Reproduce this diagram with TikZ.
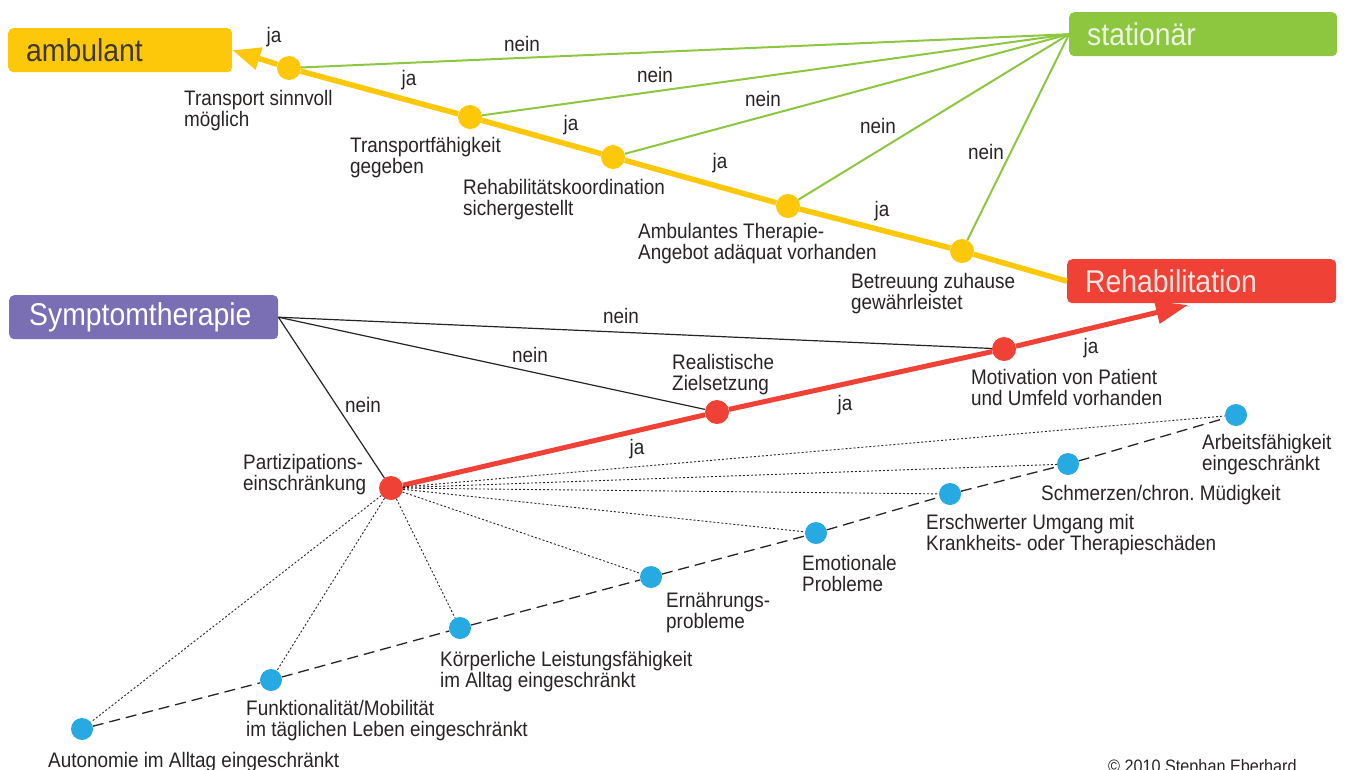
\documentclass[tikz,border=0pt]{standalone}
\usepackage{fontspec}
\setmainfont{Liberation Sans}[FakeStretch=0.9]
\usetikzlibrary{arrows.meta}
\definecolor{gelb}{RGB}{253,200,10}
\definecolor{gruen}{RGB}{141,198,63}
\definecolor{rot}{RGB}{239,65,54}
\definecolor{lila}{RGB}{122,110,181}
\definecolor{blau}{RGB}{39,170,225}
\definecolor{txt}{RGB}{40,36,36}
\newcommand{\lblfont}{\fontsize{21}{21}\selectfont}
\newcommand{\boxfont}{\fontsize{31.5}{33}\selectfont}
\frenchspacing
\begin{document}
\begin{tikzpicture}[x=1pt,y=-1pt,
	box/.style={rounded corners=5pt,anchor=north west,minimum height=44pt,inner xsep=18pt,inner ysep=0pt,text width=#1,align=left,font=\boxfont},
	dot/.style={circle,inner sep=0pt,minimum size=24pt,fill=#1},
	lbl/.style={anchor=base west,align=left,inner sep=0pt,font=\lblfont,text=txt},
	ans/.style={inner sep=0pt,font=\lblfont,text=txt}]
	\useasboundingbox (0,0) rectangle (1352,769);
	% boxes
	\node[box=188pt,fill=gelb,text={rgb,255:red,60;green,56;blue,50}] (amb) at (8,28) {ambulant};
	\node[box=232pt,fill=gruen,text={rgb,255:red,235;green,245;blue,225}] (stat) at (1069,12) {stationär};
	\node[box=233pt,fill=rot,text={rgb,255:red,252;green,228;blue,225}] (reha) at (1067,259) {Rehabilitation};
	\node[box=229pt,fill=lila,inner xsep=20pt,text=white] (sym) at (9,295) {Symptomtherapie};
	% decision dots
	\foreach \n/\p in {y1/{289,68},y2/{470,117},y3/{613,157},y4/{788,206},y5/{962,251}}
		\node[dot=gelb] (\n) at (\p) {};
	\foreach \n/\p in {r1/{391,488},r2/{717,412},r3/{1004,349}}
		\node[dot=rot] (\n) at (\p) {};
	\foreach \n/\p in {b1/{82,729},b2/{271,680},b3/{460,628},b4/{651,577},b5/{816,533},b6/{950,494},b7/{1068,464},b8/{1236,415}}
		\node[dot=blau,minimum size=22pt] (\n) at (\p) {};
	\coordinate (rtip) at (1188,305);
	% ja-path to ambulant
	\draw[gelb,line width=5.5pt] (reha.west) -- (y5) -- (y4) -- (y3) -- (y2) -- (y1);
	\draw[gelb,line width=5.5pt,-{Triangle[length=28pt,width=22pt]}] (y1) -- (amb.east);
	\foreach \n in {y1,y2,y3,y4,y5}
		\draw[gruen,line width=2pt] (stat.west) -- (\n);
	% ja-path to rehabilitation
	\draw[rot,line width=5pt] (r1) -- (r2) -- (r3);
	\draw[rot,line width=5pt,-{Triangle[length=32pt,width=22pt]}] (r3) -- (rtip);
	\foreach \n in {r1,r2,r3}
		\draw[txt,line width=1.2pt] (sym.east) -- (\n);
	\draw[txt,line width=1.3pt,dash pattern=on 11pt off 6pt] (b1) -- (b2) -- (b3) -- (b4) -- (b5) -- (b6) -- (b7) -- (b8);
	\foreach \n in {b1,b2,b3,b4,b5,b6,b7,b8}
		\draw[txt,line width=0.9pt,dash pattern=on 2pt off 2pt] (r1) -- (\n);
	% answers
	\foreach \p in {{274,37},{409,80},{571,125},{720,163},{882,211},{637,449},{845,405},{1091,348}}
		\node[ans] at (\p) {ja};
	\foreach \p in {{522,44},{655,75},{763,99},{878,126},{986,152},{621,316},{530,355},{363,405}}
		\node[ans] at (\p) {nein};
	% labels (base = last line)
	\node[lbl] (ly1) at (184,126) {Transport sinnvoll\\möglich};
	\node[lbl] (ly2) at (350,173) {Transportfähigkeit\\gegeben};
	\node[lbl] (ly3) at (463,215) {Rehabilitätskoordination\\sichergestellt};
	\node[lbl] (ly4) at (638,259) {Ambulantes Therapie-\\Angebot adäquat vorhanden};
	\node[lbl] (ly5) at (851,309) {Betreuung zuhause\\gewährleistet};
	\node[lbl] (lr1) at (243,490) {Partizipations-\\einschränkung};
	\node[lbl] (lr2) at (672,390) {Realistische\\Zielsetzung};
	\node[lbl] (lr3) at (971,405) {Motivation von Patient\\und Umfeld vorhanden};
	\node[lbl] (lb1) at (48,767) {Autonomie im Alltag eingeschränkt};
	\node[lbl] (lb2) at (246,736) {Funktionalität/Mobilität\\im täglichen Leben eingeschränkt};
	\node[lbl] (lb3) at (440,687) {Körperliche Leistungsfähigkeit\\im Alltag eingeschränkt};
	\node[lbl] (lb4) at (666,628) {Ernährungs-\\probleme};
	\node[lbl] (lb5) at (802,591) {Emotionale\\Probleme};
	\node[lbl] (lb6) at (926,550) {Erschwerter Umgang mit\\Krankheits- oder Therapieschäden};
	\node[lbl] (lb7) at (1041,500) {Schmerzen/chron. Müdigkeit};
	\node[lbl] (lb8) at (1202,470) {Arbeitsfähigkeit\\eingeschränkt};
	\node[lbl,font=\fontsize{18}{18}\selectfont] (copy) at (1108,772) {© 2010 Stephan Eberhard};
\end{tikzpicture}
\end{document}
